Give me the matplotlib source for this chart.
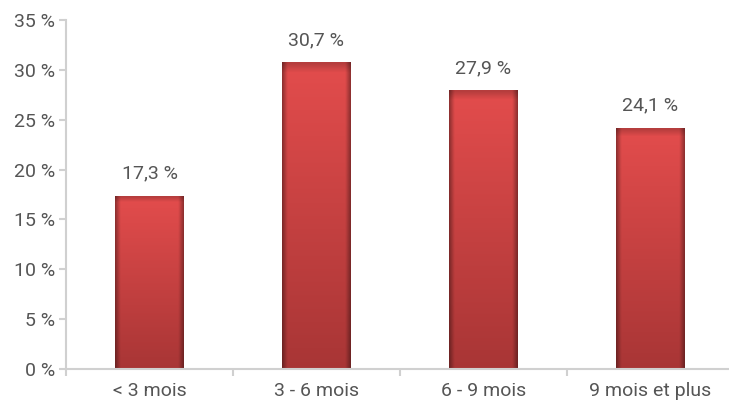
import numpy as np
import matplotlib
matplotlib.use("Agg")
import matplotlib.pyplot as plt

categories = ["< 3 mois", "3 - 6 mois", "6 - 9 mois", "9 mois et plus"]
values = [17.3, 30.7, 27.9, 24.1]
yticks = [0, 5, 10, 15, 20, 25, 30, 35]

plt.rcParams['font.family'] = ['Roboto', 'DejaVu Sans']
grey = "#555555"
axis_col = "#d0d0d0"
fs = 14

fig = plt.figure(figsize=(7.29, 4.04), dpi=100)
ax = fig.add_axes([66 / 729, 35 / 404, 668 / 729, 349 / 404])

width = 0.41
top = np.array([0.89, 0.30, 0.30])
bottom = np.array([0.66, 0.21, 0.21])


def bar_image(h):
    ny, nx = 100, 60
    t = np.linspace(0, 1, ny)[:, None]  # 0 bottom .. 1 top
    base = bottom + (top - bottom) * t[..., None]
    xs = np.linspace(-1, 1, nx)[None, :]
    shade = 1 - 0.35 * np.clip((np.abs(xs) - 0.85) / 0.15, 0, 1)
    img = base * shade[..., None]
    # slight bevel near top
    tb = np.clip((t - 0.97) / 0.03, 0, 1)
    img = img * (1 - 0.2 * tb[..., None])
    return np.clip(img, 0, 1)


for i, v in enumerate(values):
    ax.bar(i, v, width=width, color="#c84040", zorder=2)
    ax.imshow(bar_image(v), extent=(i - width / 2, i + width / 2, 0, v),
              origin="lower", aspect="auto", zorder=3, interpolation="bilinear")
    ax.text(i, v + 2.3, f"{v:.1f} %".replace(".", ","), ha="center", va="center",
            fontsize=fs, color=grey)

ax.set_xlim(-0.5, 3.5)
ax.set_ylim(0, 35)
ax.set_yticks(yticks)
ax.set_yticklabels([f"{t} %" for t in yticks])
ax.set_xticks(range(len(categories)))
ax.set_xticklabels(categories)
ax.set_xticks([-0.5, 0.5, 1.5, 2.5], minor=True)
ax.tick_params(axis="x", which="major", length=0, pad=9, labelsize=fs, labelcolor=grey)
ax.tick_params(axis="x", which="minor", length=5, color=axis_col, width=1.5)
ax.tick_params(axis="y", length=5, color=axis_col, width=1.5, labelsize=fs, labelcolor=grey, pad=3)

for s in ["top", "right"]:
    ax.spines[s].set_visible(False)
for s in ["left", "bottom"]:
    ax.spines[s].set_color(axis_col)
    ax.spines[s].set_linewidth(1.5)
ax.spines["bottom"].set_zorder(4)

fig.savefig("out.png", dpi=100)
